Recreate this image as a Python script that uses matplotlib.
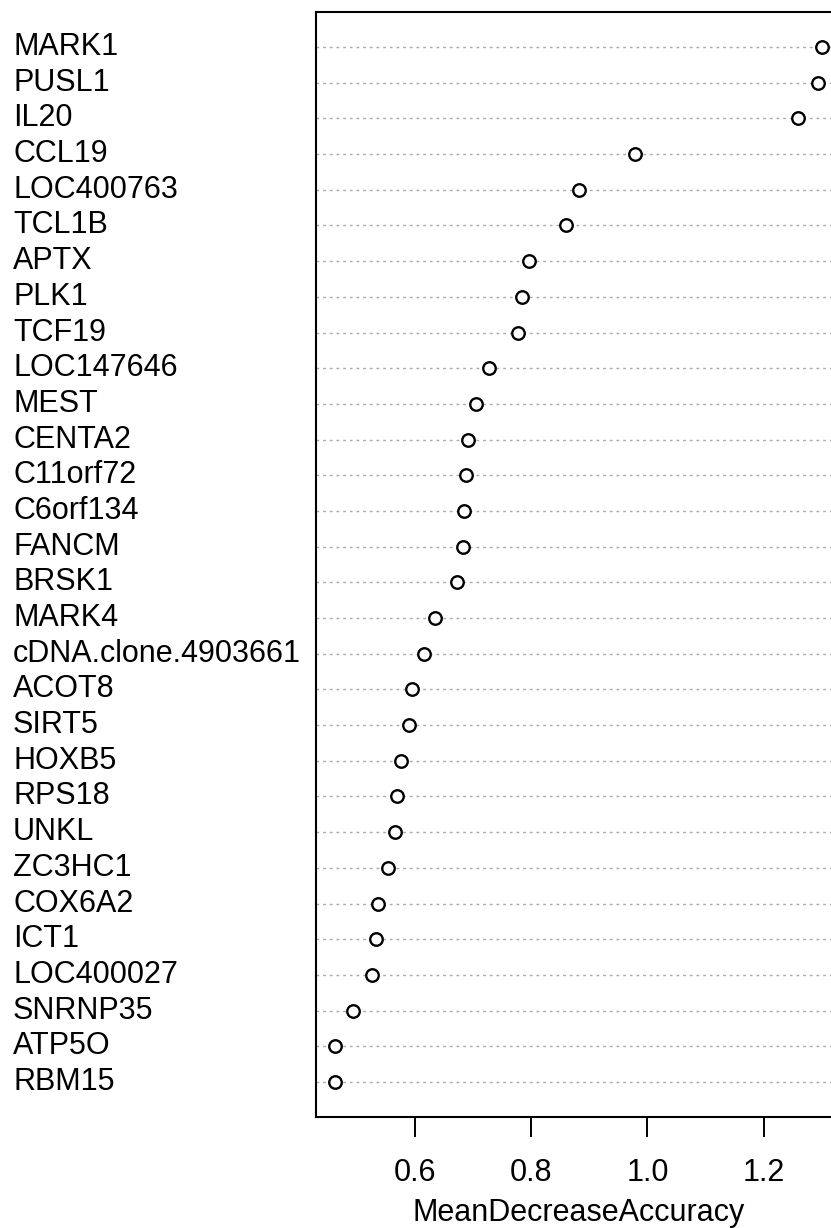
import matplotlib
matplotlib.use("Agg")
import matplotlib.pyplot as plt
import matplotlib.transforms as mtransforms

genes = ["MARK1", "PUSL1", "IL20", "CCL19", "LOC400763", "TCL1B", "APTX",
         "PLK1", "TCF19", "LOC147646", "MEST", "CENTA2", "C11orf72",
         "C6orf134", "FANCM", "BRSK1", "MARK4", "cDNA.clone.4903661",
         "ACOT8", "SIRT5", "HOXB5", "RPS18", "UNKL", "ZC3HC1", "COX6A2",
         "ICT1", "LOC400027", "SNRNP35", "ATP5O", "RBM15"]
mda = [1.301, 1.293, 1.259, 0.979, 0.883, 0.860, 0.797,
       0.784, 0.777, 0.728, 0.705, 0.691, 0.687,
       0.685, 0.682, 0.672, 0.635, 0.616,
       0.595, 0.589, 0.576, 0.569, 0.566, 0.553, 0.537,
       0.533, 0.526, 0.493, 0.463, 0.463]
xticks = [0.6, 0.8, 1.0, 1.2]

plt.rcParams["font.family"] = ["Liberation Sans", "DejaVu Sans"]

fig = plt.figure(figsize=(8.31, 12.28), dpi=100)
# axes runs a little past the right edge, like the cropped original
ax = fig.add_axes([316 / 831, 111 / 1228, 526 / 831, 1105 / 1228])

n = len(genes)
ys = list(range(n, 0, -1))
for y in ys:
    ax.axhline(y, color="#aaaaaa", lw=1.0, linestyle=(0, (2.0, 2.8)), zorder=1)
ax.plot(mda, ys, "o", ms=9, mfc="white", mec="black", mew=1.7,
        linestyle="none", zorder=3)

ax.set_xlim(0.4295, 1.335)
ax.set_ylim(0.02, n + 0.98)
ax.set_yticks([])
ax.set_xticks(xticks)
ax.set_xticklabels([f"{t:.1f}" for t in xticks])
ax.tick_params(axis="x", length=14.5, width=1.4, pad=15, labelsize=22)
for s in ax.spines.values():
    s.set_linewidth(1.5)
ax.set_xlabel("MeanDecreaseAccuracy", fontsize=22, labelpad=7)

trans = mtransforms.blended_transform_factory(fig.transFigure, ax.transData)
for g, y in zip(genes, ys):
    fig.text(13 / 831, y, g, transform=trans, ha="left", va="center",
             fontsize=22)

fig.savefig("out.png", dpi=100)
